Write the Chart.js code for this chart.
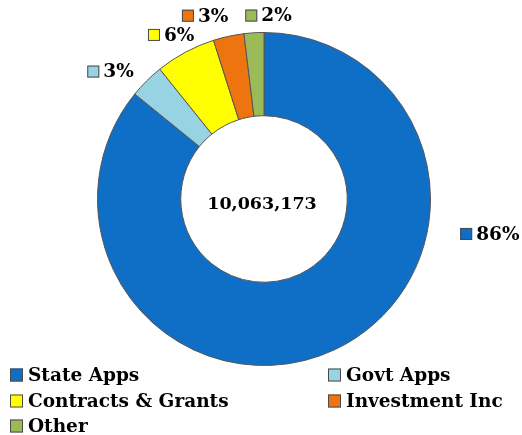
<!DOCTYPE html>
<html><head><meta charset="utf-8">
<script src="https://cdn.jsdelivr.net/npm/chart.js@4/dist/chart.umd.min.js"></script>
<style>html,body{margin:0;padding:0;background:#fff;overflow:hidden}</style>
</head><body>
<canvas id="c" width="522" height="435"></canvas>
<script>
const categories = ["State Apps", "Govt Apps", "Contracts & Grants", "Investment Inc", "Other"];
const values = [8640000, 340000, 590000, 300000, 193173];
const percentLabels = ["86%", "3%", "6%", "3%", "2%"];
const centerLabel = "10,063,173";

const colors = ["#0F6FC6", "#98D3E4", "#FFFF00", "#EE7410", "#9BBB59"];
const labelAngles = [98.8, 309.7, 330.5, 342.2, 1.4];   // degrees clockwise from top
const labelGaps = [62, 33, 22, 26, 17];                 // px beyond outer radius
const FONT = 'bold 18.5px "DejaVu Serif"';
const CENTER_FONT = 'bold 17.5px "DejaVu Serif"';

function swatch(ctx, x, y, s, color) {
  ctx.fillStyle = color;
  ctx.fillRect(x, y, s, s);
  ctx.strokeStyle = "#4a4a4a";
  ctx.lineWidth = 1;
  ctx.strokeRect(x + 0.5, y + 0.5, s - 1, s - 1);
}

const labelPlugin = {
  id: "labels",
  afterDraw(chart) {
    const ctx = chart.ctx;
    const meta = chart.getDatasetMeta(0);
    const arc0 = meta.data[0];
    const cx = arc0.x, cy = arc0.y, R = arc0.outerRadius;
    ctx.save();
    ctx.textBaseline = "middle";
    ctx.fillStyle = "#000";
    ctx.textAlign = "center";
    ctx.font = CENTER_FONT;
    ctx.fillText(centerLabel, cx - 2, cy + 5);
    ctx.font = FONT;
    ctx.textAlign = "left";
    const s = 12, gap = 4;
    percentLabels.forEach((t, i) => {
      const a = labelAngles[i] * Math.PI / 180;
      const d = R + labelGaps[i];
      const px = cx + Math.sin(a) * d;
      const py = cy - Math.cos(a) * d;
      const w = s + gap + ctx.measureText(t).width;
      const x0 = px - w / 2;
      swatch(ctx, x0, py - s / 2, s, colors[i]);
      ctx.fillStyle = "#000";
      ctx.fillText(t, x0 + s + gap, py + 1);
    });
    const colX = [10, 328], rowY = [375, 401, 426];
    const ls = 13;
    categories.forEach((c, i) => {
      const x = colX[i % 2], y = rowY[Math.floor(i / 2)];
      swatch(ctx, x, y - ls / 2, ls, colors[i]);
      ctx.fillStyle = "#000";
      ctx.fillText(c, x + ls + 5, y + 1);
    });
    ctx.restore();
  }
};

new Chart(document.getElementById("c"), {
  type: "doughnut",
  data: {
    labels: categories,
    datasets: [{
      data: values,
      backgroundColor: colors,
      borderColor: "#555555",
      borderWidth: 1
    }]
  },
  options: {
    responsive: false,
    animation: false,
    cutout: "50%",
    layout: { padding: { top: 32, bottom: 69, left: 6, right: 0 } },
    plugins: { legend: { display: false }, tooltip: { enabled: false } }
  },
  plugins: [labelPlugin]
});
</script>
</body></html>
